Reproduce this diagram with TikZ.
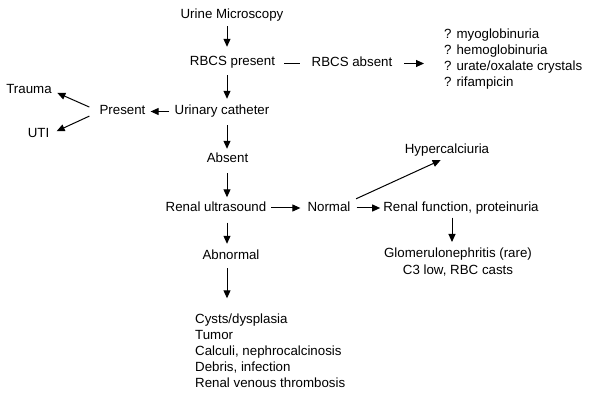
\documentclass[tikz,border=0pt]{standalone}
\usepackage{fontspec}
\setmainfont{Liberation Sans}
\usetikzlibrary{arrows.meta}
\begin{document}
\begin{tikzpicture}[x=1pt,y=-1pt,
  every node/.style={font=\fontsize{13.3}{16.2}\selectfont, inner sep=0pt},
  t/.style={text height=10pt, text depth=3pt, anchor=base},
  lst/.style={align=left, anchor=north west},
  arr/.style={-{Triangle[length=8pt,width=7pt]}, line width=1pt},
  ln/.style={line width=1pt}]
\useasboundingbox[fill=white] (0,0) rectangle (613,406);
\coordinate (ax) at (227,0);
\node[t] (um) at (232,19) {Urine Microscopy};
\node[t] (rp) at (232.5,66) {RBCS present};
\node[t] (ra) at (352,67) {RBCS absent};
\node[lst] (ql) at (444,28.3) {? myoglobinuria\\? hemoglobinuria\\? urate/oxalate crystals\\? rifampicin};
\node[t] (uc) at (222,115) {Urinary catheter};
\node[t] (pr) at (122.5,115) {Present};
\node[t] (tr) at (29,94) {Trauma};
\node[t] (uti) at (38.5,138) {UTI};
\node[t] (ab) at (227.5,163) {Absent};
\node[t] (ru) at (216,211.5) {Renal ultrasound};
\node[t] (no) at (329,211.5) {Normal};
\node[t] (hy) at (447,154) {Hypercalciuria};
\node[t] (rf) at (461,211.5) {Renal function, proteinuria};
\node[align=center, anchor=north] (gl) at (458,248) {Glomerulonephritis (rare)\\C3 low, RBC casts};
\node[t] (an) at (231,259) {Abnormal};
\node[lst] (ul) at (195,313.3) {Cysts/dysplasia\\Tumor\\Calculi, nephrocalcinosis\\Debris, infection\\Renal venous thrombosis};
% main column
\draw[arr, shorten <=4pt, shorten >=9pt] (um.south -| ax) -- (rp.north -| ax);
\draw[arr, shorten <=6pt, shorten >=6pt] (rp.south -| ax) -- (uc.north -| ax);
\draw[arr, shorten <=7pt, shorten >=4pt] (uc.south -| ax) -- (ab.north -| ax);
\draw[arr, shorten <=7pt, shorten >=4pt] (ab.south -| ax) -- (ru.north -| ax);
\draw[arr, shorten <=8pt, shorten >=5pt] (ru.south -| ax) -- (an.north -| ax);
\draw[arr, shorten <=6pt, shorten >=15pt] (an.south -| ax) -- (ul.north -| ax);
% RBCS row
\draw[ln, shorten <=9pt, shorten >=12pt] ([yshift=-1.5pt]rp.east) -- ([yshift=-1.5pt]rp.east -| ra.west);
\draw[arr, shorten <=12pt, shorten >=20pt] (ra.east) -- (ra.east -| ql.west);
% catheter row
\draw[arr, shorten <=5pt, shorten >=5pt] (uc.west) -- (pr.east);
\draw[arr, shorten <=11pt, shorten >=6pt] (pr.west) -- (tr.east);
\draw[arr, shorten <=11pt, shorten >=8pt] (pr.west) -- (uti.east);
% ultrasound row
\draw[arr, shorten <=5pt, shorten >=7pt] (ru.east) -- (no.west);
\draw[arr, shorten <=6pt, shorten >=3pt] (no.east) -- (rf.west);
\draw[arr, shorten <=6pt, shorten >=7pt] (no.north east) -- (hy.south);
\draw[arr, shorten <=3pt, shorten >=6pt] ([xshift=-9pt]rf.south) -- ([xshift=-9pt]rf.south |- gl.north);
\end{tikzpicture}
\end{document}
